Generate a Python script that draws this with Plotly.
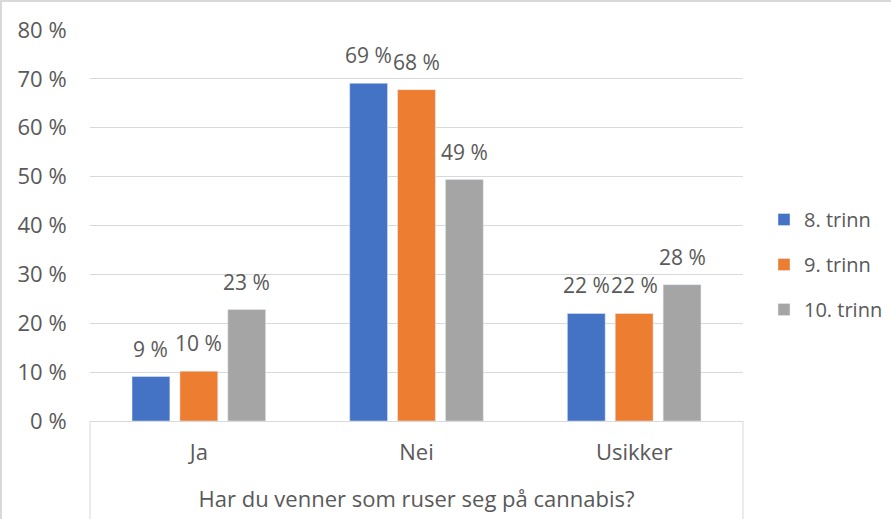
import plotly.graph_objects as go

categories = ["Ja", "Nei", "Usikker"]
series_names = ["8. trinn", "9. trinn", "10. trinn"]
trinn8 = [9.1, 69.1, 22.0]
trinn9 = [10.2, 67.8, 22.0]
trinn10 = [22.8, 49.4, 27.9]
labels8 = ["9 %", "69 %", "22 %"]
labels9 = ["10 %", "68 %", "22 %"]
labels10 = ["23 %", "49 %", "28 %"]
ytick_vals = [0, 10, 20, 30, 40, 50, 60, 70, 80]
ytick_text = ["0 %", "10 %", "20 %", "30 %", "40 %", "50 %", "60 %", "70 %", "80 %"]
x_title = "Har du venner som ruser seg på cannabis?"

colors = ["#4472C4", "#ED7D31", "#A5A5A5"]
txt = "#595959"
font = "Open Sans"
fs = 22

W, H = 891, 519
L, R, T, B = 90, 148, 30, 98
pw, ph = W - L - R, H - T - B
bargap = 0.34

def px2paper_x(px):
    return (px - L) / pw

def px2paper_y(py):
    return (H - B - py) / ph

fig = go.Figure()
all_vals = [trinn8, trinn9, trinn10]
all_labs = [labels8, labels9, labels10]
for name, vals, col in zip(series_names, all_vals, colors):
    fig.add_trace(go.Bar(
        x=categories, y=vals, name=name, marker_color=col,
        legendgroup=name, hoverinfo="skip",
    ))

# data labels placed above each bar (offset within the group)
slot = (1 - bargap) * (pw / len(categories)) / len(series_names)
annotations = []
for i, (vals, labs) in enumerate(zip(all_vals, all_labs)):
    xshift = (i - (len(series_names) - 1) / 2) * slot
    for cat, v, lab in zip(categories, vals, labs):
        annotations.append(dict(
            x=cat, y=v, xref="x", yref="y", text=lab, showarrow=False,
            xanchor="center", yanchor="bottom", xshift=xshift, yshift=12,
            font=dict(size=fs - 1, color=txt, family=font),
        ))

fig.update_layout(
    width=W, height=H,
    margin=dict(l=L, r=R, t=T, b=B, autoexpand=False),
    plot_bgcolor="white", paper_bgcolor="white",
    barmode="group", bargap=bargap, bargroupgap=0.21,
    font=dict(family=font, color=txt, size=fs),
    showlegend=True,
    annotations=annotations,
    legend=dict(
        x=px2paper_x(764), y=px2paper_y(200), xanchor="left", yanchor="top",
        font=dict(size=20, color=txt, family=font),
        tracegroupgap=16, bgcolor="rgba(0,0,0,0)",
    ),
    xaxis=dict(
        showline=True, linecolor="#d9d9d9", linewidth=1,
        ticks="outside", ticklen=0, ticklabelstandoff=12,
        tickfont=dict(size=fs, color=txt, family=font),
        title=dict(text=x_title, standoff=26, font=dict(size=fs, color=txt, family=font)),
        fixedrange=True,
    ),
    yaxis=dict(
        range=[0, 80], tickvals=ytick_vals, ticktext=ytick_text,
        showgrid=True, gridcolor="#d9d9d9", gridwidth=1,
        zeroline=False, showline=False,
        ticks="outside", ticklen=0, ticklabelstandoff=18,
        tickfont=dict(size=fs, color=txt, family=font),
        fixedrange=True,
    ),
)

line = dict(color="#d9d9d9", width=1)
shapes = [
    dict(type="line", xref="paper", yref="paper", x0=0, x1=0, y0=0, y1=px2paper_y(H), line=line),
    dict(type="line", xref="paper", yref="paper", x0=1, x1=1, y0=0, y1=px2paper_y(H), line=line),
    dict(type="line", xref="paper", yref="paper", x0=px2paper_x(1), x1=px2paper_x(1),
         y0=px2paper_y(0), y1=px2paper_y(H), line=dict(color="#d9d9d9", width=2)),
    dict(type="line", xref="paper", yref="paper", x0=px2paper_x(0), x1=px2paper_x(W),
         y0=px2paper_y(1), y1=px2paper_y(1), line=dict(color="#d9d9d9", width=2)),
]
fig.update_layout(shapes=shapes)

fig.write_html("out.html", config={"displayModeBar": False},
               post_script="document.body.style.margin='0';document.body.style.padding='0';")
